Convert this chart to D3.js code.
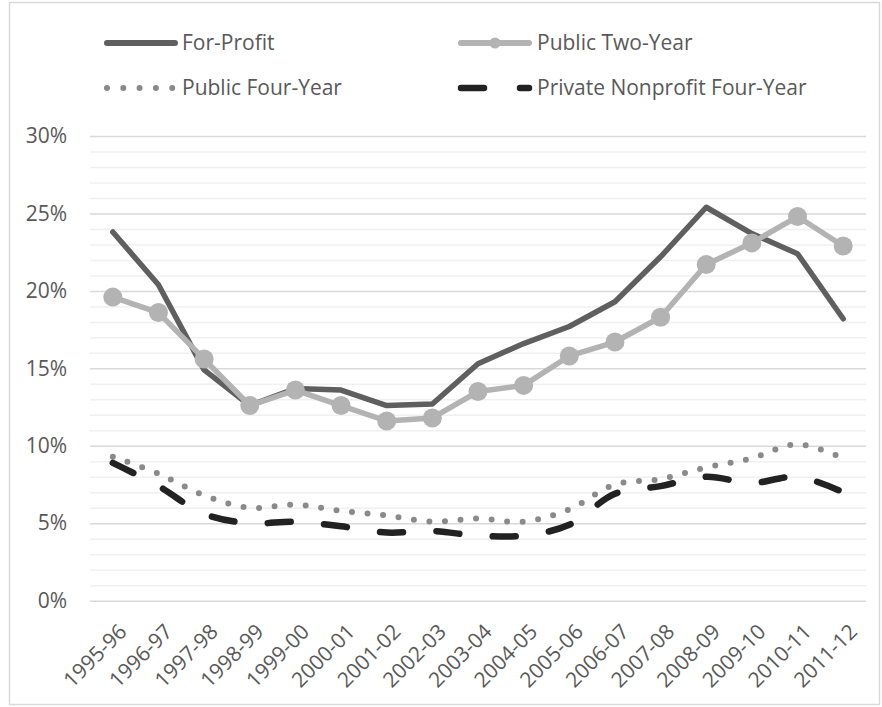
<!DOCTYPE html>
<html>
<head>
<meta charset="utf-8">
<script src="https://cdn.jsdelivr.net/npm/d3@7"></script>
<style>
  body { margin: 0; background: #fff; }
  .main { width: 882px; height: 707px; }
</style>
</head>
<body>
<div class="main"></div>
<script>
const years = ["1995-96", "1996-97", "1997-98", "1998-99", "1999-00", "2000-01", "2001-02", "2002-03",
    "2003-04", "2004-05", "2005-06", "2006-07", "2007-08", "2008-09", "2009-10", "2010-11", "2011-12"]
const forProfit = [23.8, 20.4, 14.9, 12.6, 13.7, 13.6, 12.6, 12.7, 15.3, 16.6, 17.7, 19.3, 22.2, 25.4, 23.7, 22.4, 18.2]
const publicTwoYear = [19.6, 18.6, 15.6, 12.6, 13.6, 12.6, 11.6, 11.8, 13.5, 13.9, 15.8, 16.7, 18.3, 21.7, 23.1, 24.8, 22.9]
const publicFourYear = [9.3, 8.2, 6.8, 6.0, 6.2, 5.8, 5.5, 5.1, 5.3, 5.1, 5.9, 7.5, 7.85, 8.6, 9.2, 10.1, 9.2]
const privateNonprofit = [8.9, 7.4, 5.6, 5.0, 5.1, 4.8, 4.4, 4.5, 4.2, 4.2, 4.9, 6.9, 7.4, 8.0, 7.6, 8.0, 7.0]
const yTicks = [0, 5, 10, 15, 20, 25, 30]

const W = 882, H = 707
const plot = { left: 90, right: 866, top: 136, bottom: 600.7 }
const textColor = "#595959"
const font = "'Open Sans', sans-serif"
const fontSize = "21px"

const svg = d3.select(".main")
    .append("svg")
    .attr("width", W)
    .attr("height", H)
    .style("font-family", font)

// chart border
svg.append("rect")
    .attr("x", 9.5).attr("y", 2.5)
    .attr("width", 870).attr("height", 702)
    .attr("fill", "none")
    .attr("stroke", "#d9d9d9")
    .attr("stroke-width", 1.5)

const x = d3.scaleBand()
    .domain(years)
    .range([plot.left, plot.right])
const xc = d => x(d) + x.bandwidth() / 2

const y = d3.scaleLinear()
    .domain([0, 30])
    .range([plot.bottom, plot.top])

// minor gridlines every 1%
svg.append("g")
    .attr("transform", `translate(${plot.left}, 0)`)
    .call(d3.axisLeft(y).tickValues(d3.range(0, 31, 1).filter(v => v % 5 !== 0)).tickSize(-(plot.right - plot.left)).tickFormat(""))
    .call(g => g.select(".domain").remove())
    .call(g => g.selectAll("line").attr("stroke", "#f0f0f0").attr("stroke-width", 1.5))

// major gridlines + labels
svg.append("g")
    .attr("transform", `translate(${plot.left}, 0)`)
    .call(d3.axisLeft(y).tickValues(yTicks).tickSize(-(plot.right - plot.left)).tickPadding(23).tickFormat(d => d + "%"))
    .call(g => g.select(".domain").remove())
    .call(g => g.selectAll("line").attr("stroke", "#d9d9d9").attr("stroke-width", 1.5))
    .call(g => g.selectAll("text")
        .attr("fill", textColor)
        .style("font-size", fontSize)
        .style("font-family", font))

// x axis labels
svg.append("g")
    .attr("transform", `translate(0, ${plot.bottom})`)
    .call(d3.axisBottom(x).tickSize(0).tickPadding(0))
    .call(g => g.select(".domain").remove())
    .call(g => g.selectAll("text")
        .attr("fill", textColor)
        .style("font-size", fontSize)
        .style("font-family", font)
        .attr("text-anchor", "end")
        .attr("y", 0)
        .attr("dy", "0.35em")
        .attr("transform", "translate(10, 27) rotate(-45)"))

const straight = d3.line()
    .x((d, i) => xc(years[i]))
    .y(d => y(d))
const smooth = d3.line()
    .x((d, i) => xc(years[i]))
    .y(d => y(d))
    .curve(d3.curveCatmullRom.alpha(0.5))

svg.append("path")
    .datum(forProfit)
    .attr("d", straight)
    .attr("fill", "none")
    .attr("stroke", "#5f5f5f")
    .attr("stroke-width", 5.5)
    .attr("stroke-linecap", "round")
    .attr("stroke-linejoin", "round")

svg.append("path")
    .datum(publicTwoYear)
    .attr("d", straight)
    .attr("fill", "none")
    .attr("stroke", "#b3b3b3")
    .attr("stroke-width", 5.5)
    .attr("stroke-linejoin", "round")

svg.selectAll(".pt2")
    .data(publicTwoYear)
    .join("circle")
    .attr("class", "pt2")
    .attr("cx", (d, i) => xc(years[i]))
    .attr("cy", d => y(d))
    .attr("r", 9.5)
    .attr("fill", "#b3b3b3")

svg.append("path")
    .datum(publicFourYear)
    .attr("d", smooth)
    .attr("fill", "none")
    .attr("stroke", "#8a8a8a")
    .attr("stroke-width", 6)
    .attr("stroke-linecap", "round")
    .attr("stroke-dasharray", "0 15.6")

svg.append("path")
    .datum(privateNonprofit)
    .attr("d", smooth)
    .attr("fill", "none")
    .attr("stroke", "#222")
    .attr("stroke-width", 6.5)
    .attr("stroke-linecap", "round")
    .attr("stroke-dasharray", "23 33.5")

// legend
const legend = svg.append("g")
const legendText = (tx, ty, label) => legend.append("text")
    .attr("x", tx).attr("y", ty)
    .attr("dy", "0.35em")
    .attr("fill", textColor)
    .style("font-size", fontSize)
    .text(label)

legend.append("line")
    .attr("x1", 107).attr("x2", 175).attr("y1", 43).attr("y2", 43)
    .attr("stroke", "#5f5f5f").attr("stroke-width", 6).attr("stroke-linecap", "round")
legendText(182, 43, "For-Profit")

legend.append("line")
    .attr("x1", 461).attr("x2", 529).attr("y1", 43).attr("y2", 43)
    .attr("stroke", "#b3b3b3").attr("stroke-width", 6).attr("stroke-linecap", "round")
legend.append("circle")
    .attr("cx", 495).attr("cy", 43).attr("r", 5.5).attr("fill", "#b3b3b3")
legendText(537, 43, "Public Two-Year")

legend.append("line")
    .attr("x1", 107).attr("x2", 173).attr("y1", 88).attr("y2", 88)
    .attr("stroke", "#8a8a8a").attr("stroke-width", 6).attr("stroke-linecap", "round")
    .attr("stroke-dasharray", "0 16.3")
legendText(182, 88, "Public Four-Year")

legend.append("line")
    .attr("x1", 461).attr("x2", 529).attr("y1", 88).attr("y2", 88)
    .attr("stroke", "#222").attr("stroke-width", 6.5).attr("stroke-linecap", "round")
    .attr("stroke-dasharray", "23 36")
legendText(537, 88, "Private Nonprofit Four-Year")
</script>
</body>
</html>
